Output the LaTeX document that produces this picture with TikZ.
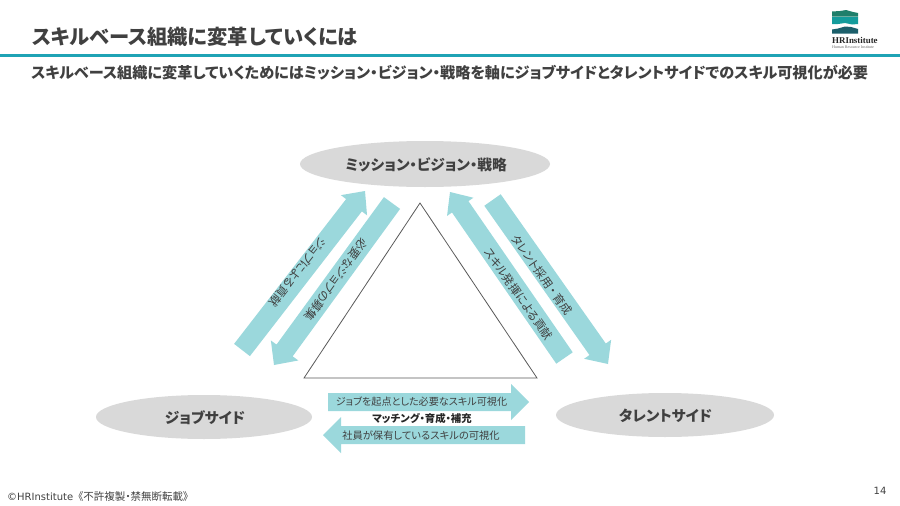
\documentclass[tikz,border=0pt]{standalone}
\usepackage{fontspec}
\usetikzlibrary{calc}
\setmainfont{Noto Sans CJK JP}[RawFeature={+palt}]
\newfontfamily\latinf{DejaVu Sans}
\newfontfamily\serifl{Liberation Serif}
\definecolor{aqua}{HTML}{9BD8DC}
\definecolor{linecol}{HTML}{1FA3B5}
\definecolor{ell}{HTML}{D9D9D9}
\definecolor{ink}{HTML}{404040}
\definecolor{logoA}{HTML}{1F7F6B}
\definecolor{logoB}{HTML}{149C9C}
\definecolor{logoC}{HTML}{1C5F6B}
\newcommand{\fsz}[1]{\fontsize{#1pt}{#1pt}\selectfont}
\newcommand{\blockarrow}[5]{% tail, tip, half body, half head, head length
  \coordinate (s#1) at ($(#2)!#5pt!(#1)$);
  \fill[aqua] ($(#1)!#3pt!90:(#2)$) -- ($(s#1)!#3pt!90:(#2)$) -- ($(s#1)!#4pt!90:(#2)$) -- (#2)
     -- ($(s#1)!#4pt!-90:(#2)$) -- ($(s#1)!#3pt!-90:(#2)$) -- ($(#1)!#3pt!-90:(#2)$) -- cycle;}
\tikzset{
  ellabel/.style={font=\bfseries\fsz{14.7},text=ink},
  arrowlabel/.style={font=\fsz{11.5},text=ink,inner sep=0pt},
}
\begin{document}
\begin{tikzpicture}[x=1pt,y=-1pt]
\useasboundingbox (0,0) rectangle (900,506);
% header
\node[anchor=west,inner sep=0pt,font=\bfseries\fsz{20.3},text=ink] (title) at (32,37) {スキルベース組織に変革していくには};
\fill[linecol] (0,54.3) rectangle (900,57);
\node[anchor=west,inner sep=0pt,font=\bfseries\fsz{15.15},text=ink] (sub) at (31,73) {スキルベース組織に変革していくためにはミッション・ビジョン・戦略を軸にジョブサイドとタレントサイドでのスキル可視化が必要};
% logo
\fill[logoA] (832,11.5) -- (840,11) -- (846,10) -- (853,12) -- (858,13) -- (858,16.5) -- (832,16.5) -- cycle;
\fill[logoB] (832,17) -- (858,17) -- (858,24) -- (852,24.5) -- (845,23) -- (838,24) -- (832,24) -- cycle;
\fill[logoC] (832,29.5) -- (838,28.5) -- (845,26.5) -- (851,27) -- (858,29) -- (858,33.5) -- (832,33.5) -- cycle;
\node[anchor=west,inner sep=0pt,font=\serifl\bfseries\fsz{8.9},text=black!85] (logo) at (832,40) {HRInstitute};
\node[anchor=west,inner sep=0pt,font=\serifl\fsz{4},text=black!60] (logotag) at (832,47) {Human Resource Institute};
% triangle
\coordinate (tA) at (420,203);
\coordinate (tB) at (304,378);
\coordinate (tC) at (537,378);
\draw[draw=black!65,line width=.8pt] (tA) -- (tB) -- (tC) -- cycle;
% ellipses
\fill[ell] (425,164) ellipse [x radius=125,y radius=23];
\fill[ell] (204,417) ellipse [x radius=108,y radius=22];
\fill[ell] (665,415) ellipse [x radius=109,y radius=22];
\node[ellabel] (mvv) at (426,165) {ミッション・ビジョン・戦略};
\node[ellabel] (job) at (205,418) {ジョブサイド};
\node[ellabel] (tal) at (665.5,416) {タレントサイド};
% block arrows
\coordinate (a1) at (242,350); \coordinate (b1) at (365,191);
\coordinate (a2) at (392,203); \coordinate (b2) at (274,365);
\coordinate (a3) at (564.5,358); \coordinate (b3) at (450,192);
\coordinate (a4) at (492.5,200); \coordinate (b4) at (608,364);
\coordinate (a5) at (328,402); \coordinate (b5) at (529,402);
\coordinate (a6) at (525,435); \coordinate (b6) at (323,435);
\blockarrow{a1}{b1}{10}{16.5}{18}
\blockarrow{a2}{b2}{10}{17}{18}
\blockarrow{a3}{b3}{10}{16}{18}
\blockarrow{a4}{b4}{10}{16.5}{18}
\blockarrow{a5}{b5}{9}{18}{18}
\blockarrow{a6}{b6}{9}{18}{18}
% arrow labels
\node[arrowlabel,rotate=232] (l1) at (298,272) {ジョブによる貢献};
\node[arrowlabel,rotate=234] (l2) at (336,280) {必要なジョブの募集};
\node[arrowlabel,rotate=-55] (l3) at (518.5,294) {スキル発揮による貢献};
\node[arrowlabel,rotate=-55] (l4) at (542,275) {タレント採用\,・\,育成};
\node[arrowlabel,font=\fsz{10.1}] (l5) at (421.5,402) {ジョブを起点とした必要なスキル可視化};
\node[arrowlabel,font=\fsz{10.3}] (l6) at (421,436) {社員が保有しているスキルの可視化};
\node[inner sep=0pt,font=\bfseries\fsz{10.4},text=black!85] (match) at (422,419) {マッチング・育成・補充};
% footer
\node[anchor=west,inner sep=0pt,font=\latinf\fsz{10},text=ink] (copy) at (7,497) {©HRInstitute};
\node[anchor=west,inner sep=0pt,font=\fsz{10.5},text=ink] (copy2) at (78,497) {《不許複製・禁無断転載》};
\node[inner sep=0pt,font=\latinf\fsz{10},text=ink] (page) at (880,491) {14};
\end{tikzpicture}
\end{document}
